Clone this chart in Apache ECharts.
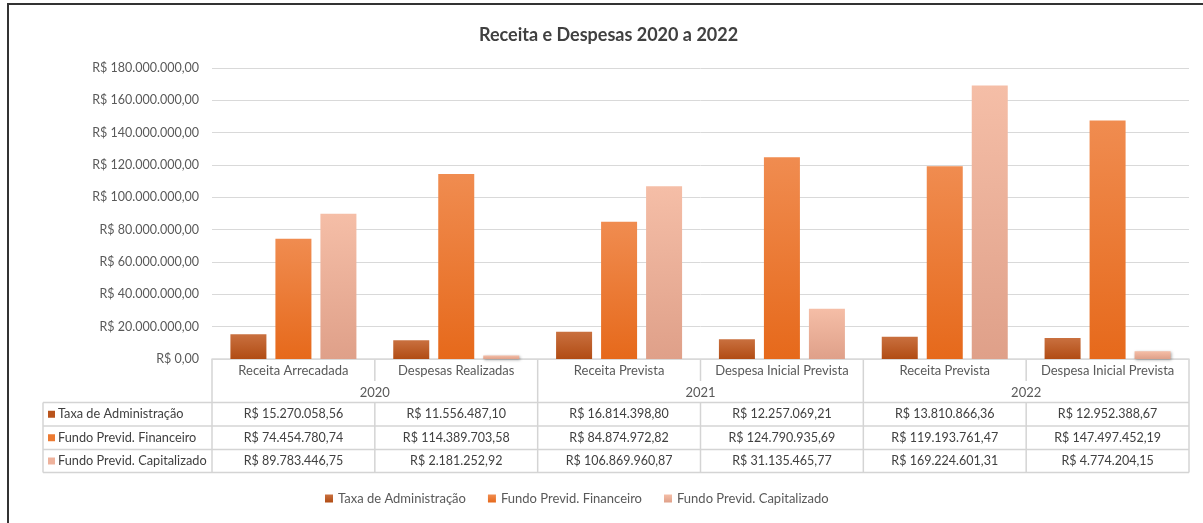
<!DOCTYPE html>
<html>
<head>
<meta charset="utf-8">
<script src="https://cdn.jsdelivr.net/npm/echarts@6/dist/echarts.min.js"></script>
<style>
html,body{margin:0;padding:0;background:#fff;}
#chart{width:1203px;height:523px;}
</style>
</head>
<body>
<div id="chart"></div>
<script>
var categories = ['Receita Arrecadada', 'Despesas Realizadas', 'Receita Prevista', 'Despesa Inicial Prevista', 'Receita Prevista', 'Despesa Inicial Prevista'];
var years = ['2020', '2021', '2022'];
var seriesNames = ['Taxa de Administração', 'Fundo Previd. Financeiro', 'Fundo Previd. Capitalizado'];
var taxaAdm = [15270058.56, 11556487.10, 16814398.80, 12257069.21, 13810866.36, 12952388.67];
var fundoFin = [74454780.74, 114389703.58, 84874972.82, 124790935.69, 119193761.47, 147497452.19];
var fundoCap = [89783446.75, 2181252.92, 106869960.87, 31135465.77, 169224601.31, 4774204.15];

var FONT = 'Lato';
var colorsTop = ['#c9703f', '#f08c50', '#f5bea7'];
var colorsBot = ['#b14c14', '#e6691b', '#dfa089'];
var solid = ['#b9541c', '#ec7a32', '#eeb29c'];

// formata em real: R$ 1.234,56
function brl(v) {
  var p = Number(v).toFixed(2).split('.');
  return 'R$ ' + p[0].replace(/\B(?=(\d{3})+(?!\d))/g, '.') + ',' + p[1];
}

function grad(i) {
  return new echarts.graphic.LinearGradient(0, 0, 0, 1, [
    {offset: 0, color: colorsTop[i]},
    {offset: 1, color: colorsBot[i]}
  ]);
}

var allData = [taxaAdm, fundoFin, fundoCap];
var chart = echarts.init(document.getElementById('chart'));

var gridL = 212, gridR = 14, gridT = 68, gridB = 164;
var option = {
  animation: false,
  title: {
    text: 'Receita e Despesas 2020 a 2022',
    left: 474,
    top: 21,
    textStyle: {fontFamily: FONT, fontSize: 18, fontWeight: 'bold', color: '#404040'}
  },
  legend: {
    data: seriesNames,
    top: 487,
    left: 320,
    icon: 'rect',
    itemWidth: 8,
    itemHeight: 8,
    itemGap: 22,
    textStyle: {fontFamily: FONT, fontSize: 13, color: '#595959'}
  },
  grid: {left: gridL, right: gridR, top: gridT, bottom: gridB, containLabel: false},
  xAxis: [
    {
      type: 'category',
      data: categories,
      axisLine: {show: true, lineStyle: {color: '#d9d9d9', width: 1.5}},
      axisTick: {show: false},
      axisLabel: {interval: 0, margin: 5, fontFamily: FONT, fontSize: 13, color: '#595959'}
    },
    {
      type: 'category',
      data: years,
      position: 'bottom',
      offset: 22,
      axisLine: {show: false},
      axisTick: {show: false},
      axisLabel: {interval: 0, margin: 5, fontFamily: FONT, fontSize: 13, color: '#595959'}
    }
  ],
  yAxis: {
    type: 'value',
    min: 0,
    max: 180000000,
    interval: 20000000,
    axisLine: {show: false},
    axisTick: {show: false},
    splitLine: {lineStyle: {color: '#d9d9d9', width: 1}},
    axisLabel: {margin: 13, fontFamily: FONT, fontSize: 12.5, color: '#595959', formatter: brl}
  },
  series: seriesNames.map(function (n, i) {
    return {
      name: n,
      type: 'bar',
      data: allData[i],
      barWidth: 36,
      barGap: '25%',
      color: solid[i],
      itemStyle: {
        color: grad(i),
        shadowBlur: 3,
        shadowColor: 'rgba(0,0,0,0.35)',
        shadowOffsetX: 1,
        shadowOffsetY: 1
      }
    };
  })
};
chart.setOption(option);

// tabela de dados abaixo do eixo
var W = 1203, H = 523;
var x0 = gridL, x1 = W - gridR, axisY = H - gridB;
var rowY = [402.5, 426, 449.5, 472.5];
var tableL = 43;
var catW = (x1 - x0) / categories.length;
var lc = '#d4d4d4';
var els = [];

function line(xa, ya, xb, yb) {
  els.push({type: 'line', silent: true, shape: {x1: xa, y1: ya, x2: xb, y2: yb},
    style: {stroke: lc, lineWidth: 1.5}});
}

// moldura
els.push({type: 'rect', silent: true, shape: {x: 8, y: 4, width: 1300, height: 700},
  style: {fill: null, stroke: '#333', lineWidth: 2}});

for (var r = 0; r < rowY.length; r++) line(tableL, rowY[r], x1, rowY[r]);
line(tableL, rowY[0], tableL, rowY[3]);
line(x0, axisY, x0, rowY[3]);
line(x1, axisY, x1, rowY[3]);
for (var k = 1; k < categories.length; k++) {
  var xb = x0 + k * catW;
  if (k % 2 === 0) {
    line(xb, axisY, xb, rowY[3]);
  } else {
    line(xb, axisY, xb, axisY + 22);
    line(xb, rowY[0], xb, rowY[3]);
  }
}

for (var s = 0; s < seriesNames.length; s++) {
  var cy = (rowY[s] + rowY[s + 1]) / 2;
  els.push({type: 'rect', silent: true, shape: {x: 48, y: cy - 3.5, width: 7, height: 7},
    style: {fill: solid[s]}});
  els.push({type: 'text', silent: true, x: 58, y: cy,
    style: {text: seriesNames[s], fontFamily: FONT, fontSize: 12.75, fill: '#404040',
      align: 'left', verticalAlign: 'middle'}});
  for (var i = 0; i < categories.length; i++) {
    var cx = chart.convertToPixel({xAxisIndex: 0}, i);
    els.push({type: 'text', silent: true, x: cx, y: cy,
      style: {text: brl(allData[s][i]), fontFamily: FONT, fontSize: 12.5, fill: '#404040',
        align: 'center', verticalAlign: 'middle'}});
  }
}

chart.setOption({graphic: {elements: els}});
</script>
</body>
</html>
